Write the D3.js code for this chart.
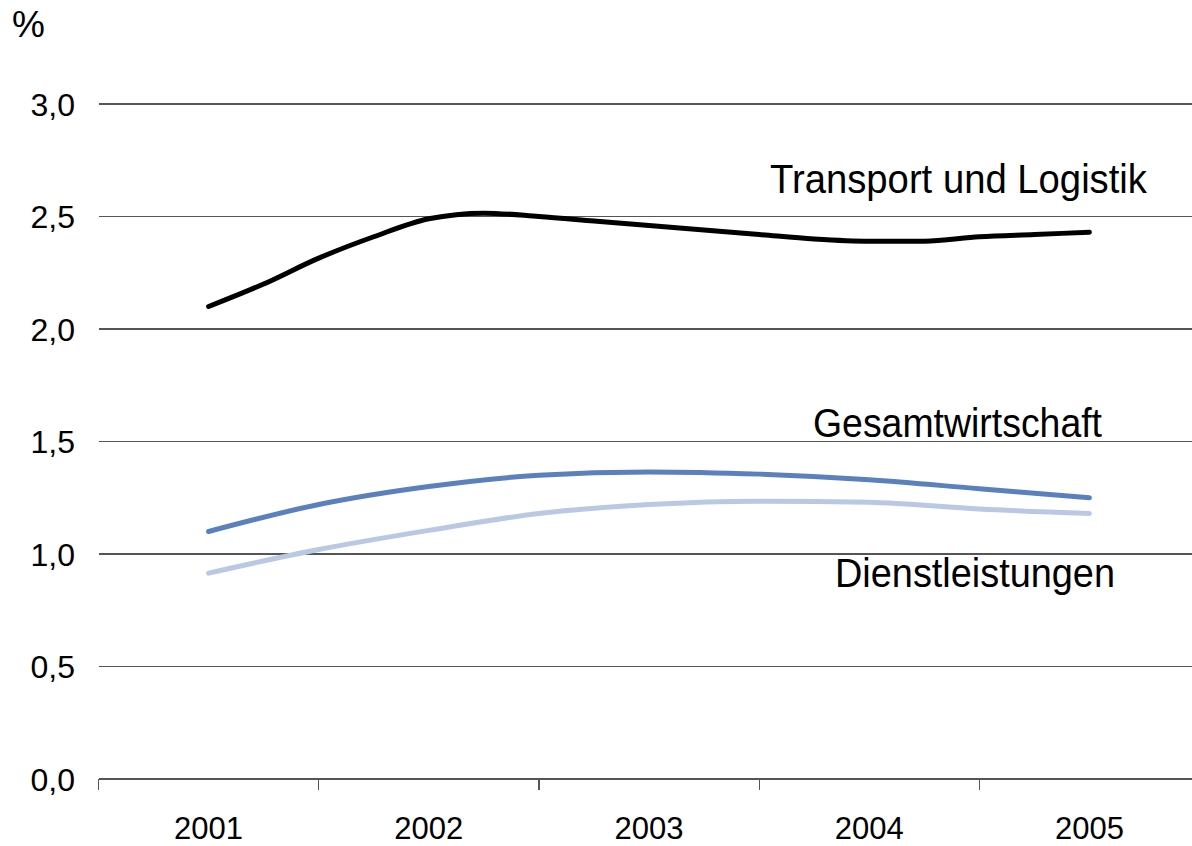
<!DOCTYPE html>
<html>
<head>
<meta charset="utf-8">
<script src="https://cdn.jsdelivr.net/npm/d3@7"></script>
<style>
  html, body { margin: 0; padding: 0; background: #fff; }
  svg { display: block; font-family: "Liberation Sans", Arial, sans-serif; }
</style>
</head>
<body>
<svg id="chart" width="1192" height="846"></svg>
<script>
// ---- data ----
const years = ["2001", "2002", "2003", "2004", "2005"];
const yTicks = [0, 0.5, 1.0, 1.5, 2.0, 2.5, 3.0];
const unitLabel = "%";

// Transport und Logistik (quarterly readings, 2001 .. 2005)
const transportT = [2001, 2001.25, 2001.5, 2001.75, 2002, 2002.25, 2002.5, 2002.75, 2003,
                    2003.25, 2003.5, 2003.75, 2004, 2004.25, 2004.5, 2004.75, 2005];
const transportV = [2.10, 2.20, 2.315, 2.41, 2.49, 2.515, 2.50, 2.48, 2.46,
                    2.44, 2.42, 2.40, 2.39, 2.39, 2.41, 2.42, 2.43];

// half-yearly readings
const halfT = [2001, 2001.5, 2002, 2002.5, 2003, 2003.5, 2004, 2004.5, 2005];
const gesamtV = [1.10, 1.22, 1.30, 1.35, 1.365, 1.355, 1.33, 1.29, 1.25];
const dienstV = [0.915, 1.02, 1.105, 1.18, 1.22, 1.235, 1.23, 1.20, 1.18];

const seriesNames = ["Transport und Logistik", "Gesamtwirtschaft", "Dienstleistungen"];

// ---- layout ----
const svg = d3.select("#chart");
const mLeft = 98.5, mRight = 1199.5, mTop = 104, mBottom = 779;

const xBand = d3.scaleBand().domain(years).range([mLeft, mRight]).padding(0);
const x = d3.scaleLinear().domain([2000.5, 2005.5]).range([mLeft, mRight]);
const y = d3.scaleLinear().domain([0, 3]).range([mBottom, mTop]);

// gridlines
svg.append("g").selectAll("line").data(yTicks.filter(d => d > 0)).join("line")
  .attr("x1", mLeft).attr("x2", mRight)
  .attr("y1", d => y(d)).attr("y2", d => y(d))
  .attr("stroke", "#555").attr("stroke-width", 1.2).attr("shape-rendering", "crispEdges");

// y tick labels
svg.append("g").selectAll("text").data(yTicks).join("text")
  .attr("x", 75).attr("y", d => y(d)).attr("dy", "0.36em")
  .attr("text-anchor", "end").attr("font-size", 32).attr("fill", "#000")
  .text(d => d3.format(".1f")(d).replace(".", ","));

// unit
svg.append("text").attr("x", 12).attr("y", 37).attr("font-size", 37).attr("fill", "#000").text(unitLabel);

// x axis
const gx = svg.append("g").attr("transform", `translate(0,${mBottom})`);
gx.append("line").attr("x1", mLeft).attr("x2", mRight).attr("y1", 0).attr("y2", 0)
  .attr("stroke", "#555").attr("stroke-width", 1.2).attr("shape-rendering", "crispEdges");
gx.selectAll("line.tk").data(years).join("line").attr("class", "tk")
  .attr("x1", d => xBand(d)).attr("x2", d => xBand(d))
  .attr("y1", 0).attr("y2", 11)
  .attr("stroke", "#555").attr("stroke-width", 1.2).attr("shape-rendering", "crispEdges");
gx.selectAll("text").data(years).join("text")
  .attr("x", d => xBand(d) + xBand.bandwidth() / 2).attr("y", 60)
  .attr("text-anchor", "middle").attr("font-size", 31).attr("fill", "#000")
  .text(d => d);

// lines
const line = d3.line().x(d => x(d[0])).y(d => y(d[1])).curve(d3.curveMonotoneX);
const series = [
  { pts: d3.zip(halfT, dienstV), color: "#B9C9E4" },
  { pts: d3.zip(halfT, gesamtV), color: "#5A80BE" },
  { pts: d3.zip(transportT, transportV), color: "#000000" }
];
svg.append("g").selectAll("path").data(series).join("path")
  .attr("d", d => line(d.pts))
  .attr("fill", "none").attr("stroke", d => d.color)
  .attr("stroke-width", 5).attr("stroke-linecap", "round").attr("stroke-linejoin", "round");

// series labels
const labels = [
  { text: seriesNames[0], x: 770, y: 193, w: 377 },
  { text: seriesNames[1], x: 813, y: 437, w: 289 },
  { text: seriesNames[2], x: 835, y: 587, w: 280 }
];
svg.append("g").selectAll("text").data(labels).join("text")
  .attr("x", d => d.x).attr("y", d => d.y)
  .attr("font-size", 41).attr("fill", "#000")
  .attr("textLength", d => d.w).attr("lengthAdjust", "spacingAndGlyphs")
  .text(d => d.text);
</script>
</body>
</html>
